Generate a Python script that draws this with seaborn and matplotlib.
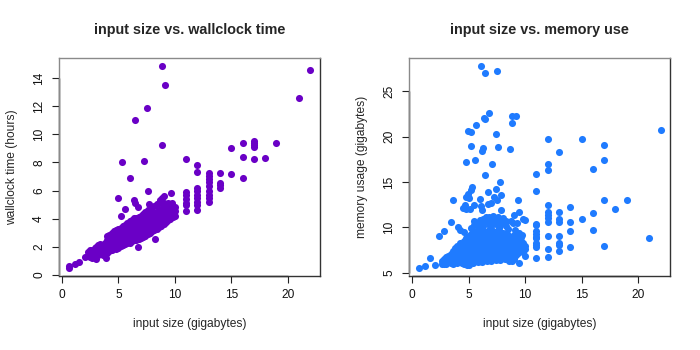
import matplotlib
matplotlib.use("Agg")
import matplotlib.pyplot as plt
import seaborn as sns
import numpy as np
import pandas as pd
from matplotlib.transforms import blended_transform_factory

# ---------------- data ----------------
# left panel: input size (GB) vs wallclock time (hours)
wall_outliers = [
    (8.85, 14.85), (9.1, 13.5), (7.5, 11.9), (6.45, 11.05), (8.85, 9.25),
    (5.3, 8.0), (7.25, 8.08), (6.05, 6.9), (7.62, 5.98), (4.95, 5.46),
    (5.62, 4.7), (5.25, 4.19), (6.4, 5.3), (6.45, 5.14), (6.75, 4.84),
    (8.25, 2.57), (6.75, 1.97), (3.9, 1.21), (3.0, 1.1), (2.05, 1.25),
    (1.55, 0.92), (1.15, 0.76), (0.6, 0.62), (0.6, 0.5), (2.45, 1.33),
    (9.65, 5.86), (8.85, 5.5), (9.05, 5.58), (8.7, 5.32), (7.75, 5.06),
    (9.75, 5.1),
]
wall_columns = {
    11: [8.27, 5.9, 5.65, 5.4, 5.15, 4.95, 4.55],
    12: [7.82, 7.35, 6.2, 5.95, 5.7, 5.45, 5.2, 4.95, 4.65],
    13: [7.22, 7.03, 6.85, 6.6, 6.3, 6.0, 5.7, 5.45, 5.22],
    14: [7.22, 6.56, 6.4, 6.2],
    15: [9.01, 7.18],
    16: [9.39, 8.42, 6.9],
    17: [9.55, 9.4, 9.25, 9.1, 8.22],
    18: [8.3],
    19: [9.35],
    21: [12.55],
    22: [14.57],
}
wall_cluster = {
    2.3: [1.35, 1.6], 2.5: [1.3, 1.75], 2.7: [1.45, 1.8, 1.22],
    2.9: [1.52, 1.9, 1.3], 3.05: [1.7, 2.02, 1.45], 3.2: [1.4, 1.8, 2.1, 1.58],
    3.4: [1.5, 1.92, 1.7, 2.2], 3.6: [1.45, 1.85, 2.05, 1.65],
    3.8: [1.62, 2.0, 2.3, 1.78], 4.0: [1.55, 1.9, 2.2, 2.75, 2.45],
    4.2: [1.7, 2.1, 2.5, 2.85], 4.4: [1.8, 2.2, 2.62, 2.35, 3.0],
    4.6: [1.9, 2.3, 2.7, 2.5, 3.12], 4.8: [1.85, 2.15, 2.45, 2.82, 3.22, 2.6],
    5.0: [1.95, 2.3, 2.55, 2.9, 3.3, 2.1], 5.2: [2.05, 2.4, 2.7, 3.0, 3.35, 2.55],
    5.4: [2.1, 2.45, 2.8, 3.15, 3.48, 2.65], 5.6: [2.2, 2.55, 2.9, 3.2, 3.58, 2.75],
    5.8: [2.25, 2.6, 2.95, 3.3, 3.68, 2.8, 3.1],
    6.0: [2.3, 2.7, 3.0, 3.4, 3.82, 2.5, 3.2],
    6.2: [2.4, 2.75, 3.1, 3.45, 3.92, 2.6, 3.25],
    6.4: [2.45, 2.85, 3.2, 3.55, 4.02, 2.65, 3.35],
    6.6: [2.5, 2.9, 3.25, 3.6, 4.08, 2.7, 3.42],
    6.8: [2.55, 2.95, 3.3, 3.7, 4.12, 2.75, 3.5],
    7.0: [2.6, 3.0, 3.4, 3.8, 4.22, 2.85, 3.55],
    7.2: [2.7, 3.1, 3.5, 3.9, 4.32, 3.25],
    7.4: [2.8, 3.2, 3.6, 4.0, 4.48, 3.4],
    7.6: [2.9, 3.3, 3.7, 4.1, 4.62, 3.5],
    7.8: [3.0, 3.4, 3.8, 4.2, 4.72, 3.6],
    8.0: [3.1, 3.5, 3.9, 4.3, 4.82, 3.7],
    8.2: [3.2, 3.6, 4.0, 4.4, 4.92, 3.8],
    8.4: [3.3, 3.7, 4.1, 4.5, 5.02, 3.9],
    8.6: [3.4, 3.8, 4.2, 4.6, 5.1], 8.8: [3.5, 3.9, 4.3, 4.7, 5.2],
    9.0: [3.6, 4.0, 4.4, 4.8, 5.15], 9.2: [3.75, 4.15, 4.55, 4.95],
    9.4: [3.9, 4.3, 4.7, 5.1], 9.6: [4.0, 4.4, 4.8], 9.8: [4.1, 4.45, 4.75],
    10.0: [4.2, 4.55, 4.85],
}

# right panel: input size (GB) vs memory usage (GB)
mem_outliers = [
    (0.6, 5.55), (1.15, 5.8), (1.55, 6.6), (2.0, 5.92), (2.4, 9.1),
    (2.85, 9.66), (3.45, 10.65), (3.62, 13.05), (4.05, 10.1), (4.2, 9.75),
    (4.6, 9.45), (4.5, 12.15), (4.65, 12.5), (4.75, 12.05), (4.8, 13.37),
    (4.95, 13.73), (5.07, 13.2), (5.1, 12.05), (5.24, 14.17), (5.33, 14.43),
    (5.5, 12.45), (6.04, 13.18), (6.13, 12.34), (6.22, 11.97), (6.67, 12.63),
    (6.96, 12.7), (6.72, 13.88), (7.26, 13.37), (7.5, 13.07), (7.85, 13.57),
    (7.88, 11.9), (7.44, 14.25), (7.76, 14.96), (6.44, 15.72), (4.74, 17.2),
    (5.54, 17.38), (7.05, 17.0), (6.22, 18.43), (6.3, 18.7), (7.64, 18.82),
    (8.66, 18.65), (5.24, 18.98), (4.95, 20.6), (5.19, 20.45), (7.4, 20.23),
    (5.64, 21.3), (6.33, 22.06), (6.46, 21.97), (6.76, 22.54), (8.84, 22.21),
    (9.15, 22.25), (8.84, 21.48), (6.07, 27.75), (6.44, 26.95), (7.54, 27.24),
    (9.33, 13.04), (9.45, 11.75), (9.04, 11.42), (9.78, 10.94), (10.01, 10.8),
    (9.45, 6.1), (9.04, 6.58), (9.99, 6.91), (4.89, 5.84), (8.86, 6.28),
    (5.2, 9.9), (6.9, 9.9), (7.7, 9.9), (8.5, 9.8), (9.1, 9.7), (9.5, 9.4),
    (9.7, 9.2), (8.74, 10.7), (9.3, 10.5),
]
mem_columns = {
    11: [15.83, 14.03, 10.43, 10.3, 9.58, 9.3, 9.0, 8.8, 8.3, 8.1, 7.9, 6.61],
    12: [19.76, 17.0, 16.34, 12.45, 11.67, 11.34, 11.0, 10.64, 9.1, 7.68, 6.8],
    13: [18.25, 11.72, 10.9, 10.65, 9.1, 8.3, 8.1, 7.45],
    14: [12.23, 10.6, 9.58, 7.9],
    15: [19.76, 10.95],
    16: [16.45, 11.55, 9.74],
    17: [19.05, 17.37, 13.07, 7.97],
    18: [12.05],
    19: [13.03],
    21: [8.89],
    22: [20.67],
}
mem_cluster = {
    2.6: [6.0, 6.3], 2.8: [5.95, 6.5], 3.0: [6.1, 6.7, 6.0],
    3.2: [6.2, 6.9, 6.5], 3.4: [6.05, 6.6, 7.1], 3.6: [6.3, 6.85, 7.4, 6.0],
    3.8: [6.15, 6.7, 7.2, 7.75], 4.0: [6.4, 6.9, 7.5, 6.05, 8.0],
    4.2: [6.2, 6.75, 7.3, 7.85, 8.25], 4.4: [6.5, 7.0, 7.6, 6.1, 8.1],
    4.6: [6.3, 6.85, 7.4, 7.95, 8.5, 6.0],
    4.8: [6.55, 7.1, 7.65, 8.2, 8.8, 6.15],
    5.0: [5.85, 6.4, 6.95, 7.5, 8.05, 8.6, 9.1],
    5.2: [6.2, 6.7, 7.25, 7.8, 8.35, 8.9, 9.3],
    5.4: [6.1, 6.6, 7.1, 7.6, 8.15, 8.7, 9.2, 9.45],
    5.5: [10.3, 10.7],
    5.6: [6.3, 6.8, 7.35, 7.9, 8.45, 9.0, 9.5],
    5.8: [6.2, 6.7, 7.2, 7.75, 8.3, 8.85, 9.35, 10.5, 10.1],
    6.0: [6.35, 6.9, 7.45, 8.0, 8.55, 9.1, 9.55, 10.8, 10.3],
    6.2: [6.25, 6.8, 7.3, 7.85, 8.4, 8.95, 9.45],
    6.3: [10.5, 10.9, 10.2],
    6.4: [6.4, 6.95, 7.5, 8.05, 8.6, 9.15, 9.6],
    6.5: [10.7, 11.1],
    6.6: [6.3, 6.85, 7.4, 7.95, 8.5, 9.05, 9.5],
    6.8: [6.45, 7.0, 7.55, 8.1, 8.65, 9.2, 9.6, 10.4, 10.9, 11.2],
    7.0: [6.35, 6.9, 7.45, 8.0, 8.55, 9.1, 9.55, 10.6, 10.2, 11.0],
    7.2: [6.5, 7.05, 7.6, 8.15, 8.7, 9.25, 9.6, 10.8, 11.3],
    7.4: [6.4, 6.95, 7.5, 8.05, 8.6, 9.15, 9.55, 10.4, 10.9],
    7.6: [6.55, 7.1, 7.65, 8.2, 8.75, 9.3, 10.6, 11.1],
    7.8: [6.45, 7.0, 7.55, 8.1, 8.65, 9.2, 9.5, 10.3, 10.8],
    8.0: [6.6, 7.15, 7.7, 8.25, 8.8, 9.35, 10.5, 11.0],
    8.2: [6.5, 7.05, 7.6, 8.15, 8.7, 9.25],
    8.3: [10.2, 10.7],
    8.4: [6.65, 7.2, 7.75, 8.3, 8.85, 9.3],
    8.6: [6.3, 6.9, 7.45, 8.0, 8.55, 9.1],
    8.8: [6.75, 7.3, 7.85, 8.4, 8.95],
    8.9: [10.5],
    9.0: [6.6, 7.1, 7.65, 8.2, 8.75, 9.2],
    9.2: [7.0, 7.55, 8.1, 8.6, 9.05],
    9.4: [7.2, 7.75, 8.3, 8.85],
    9.6: [7.4, 7.9, 8.5, 9.0],
    9.8: [7.3, 7.8, 8.3],
    10.0: [7.6, 8.0],
}

x_ticks = [0, 5, 10, 15, 20]
wall_ticks = [0, 2, 4, 6, 8, 10, 12, 14]
mem_ticks = [5, 10, 15, 20, 25]

purple = "#6A00C6"
blue = "#1F7BFF"


def build(outliers, columns, cluster):
    xs, ys = [], []
    for x, y in outliers:
        xs.append(x); ys.append(y)
    for x, vals in columns.items():
        xs += [x] * len(vals); ys += vals
    for x, vals in cluster.items():
        xs += [x] * len(vals); ys += vals
    return pd.DataFrame({"x": xs, "y": ys})


wall = build(wall_outliers, wall_columns, wall_cluster)
mem = build(mem_outliers, mem_columns, mem_cluster)

# ---------------- styling ----------------
sns.set_style("ticks")
plt.rcParams['font.family'] = ['Liberation Sans', 'DejaVu Sans']

fig = plt.figure(figsize=(7, 3.5), dpi=100)
ax1 = fig.add_axes([59 / 700, 74 / 350, 261 / 700, 218 / 350])
ax2 = fig.add_axes([409.3 / 700, 74 / 350, 261 / 700, 218 / 350])


def rlim(v):
    lo, hi = float(np.min(v)), float(np.max(v))
    r = hi - lo
    return lo - 0.04 * r, hi + 0.04 * r


def panel(ax, df, color, title, ylabel, yticks):
    sns.scatterplot(data=df, x="x", y="y", ax=ax, color=color, s=26,
                    linewidth=0, alpha=1)
    ax.set_xlim(*rlim(df["x"]))
    ax.set_ylim(*rlim(df["y"]))
    ax.set_xticks(x_ticks)
    ax.set_yticks(yticks)
    ax.set_yticklabels([str(t) for t in yticks], rotation=90, va="center")
    ax.tick_params(axis="both", which="major", direction="out", length=5,
                   width=0.8, labelsize=8.6, color="#222222",
                   labelcolor="#111111", bottom=True, left=True,
                   top=False, right=False)
    ax.tick_params(axis="x", pad=4.5)
    ax.tick_params(axis="y", pad=5)
    for side, sp in ax.spines.items():
        sp.set_visible(True)
        sp.set_linewidth(1.0)
        sp.set_color("#8a8a8a" if side in ("top", "left") else "#333333")
    # R-style axis lines from first to last tick
    tb = blended_transform_factory(ax.transData, ax.transAxes)
    ax.plot([x_ticks[0], x_ticks[-1]], [0, 0], transform=tb, color="#111111",
            lw=1.0, clip_on=False, solid_capstyle="butt")
    tl = blended_transform_factory(ax.transAxes, ax.transData)
    ax.plot([0, 0], [yticks[0], yticks[-1]], transform=tl, color="#111111",
            lw=1.0, clip_on=False, solid_capstyle="butt")
    ax.set_title(title, fontsize=10.4, fontweight="bold", pad=17)
    ax.set_xlabel("input size (gigabytes)", fontsize=8.64, labelpad=12)
    ax.set_ylabel(ylabel, fontsize=8.64, labelpad=11)
    ax.grid(False)


panel(ax1, wall, purple, "input size vs. wallclock time",
      "wallclock time (hours)", wall_ticks)
panel(ax2, mem, blue, "input size vs. memory use",
      "memory usage (gigabytes)", mem_ticks)

fig.savefig("out.png", dpi=100, facecolor="white")
